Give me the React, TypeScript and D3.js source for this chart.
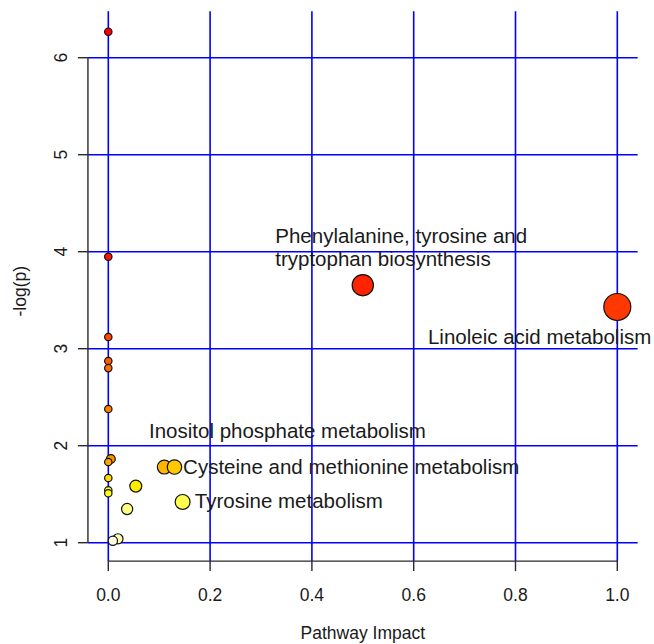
import React from "react";
import * as d3 from "d3";

// Pathway data: impact (x) and -log(p) (y)
const pathwayImpact = [0, 0, 0, 0, 0, 0, 0.005, 0, 0, 0, 0, 0.054, 0.037, 0.019, 0.009, 0.110, 0.130, 0.146, 0.5, 1.0];
const negLogP = [6.268, 3.948, 3.12, 2.873, 2.80, 2.378, 1.863, 1.832, 1.667, 1.54, 1.51, 1.584, 1.347, 1.04, 1.02, 1.78, 1.78, 1.42, 3.655, 3.43];

const xTicks = [0, 0.2, 0.4, 0.6, 0.8, 1.0];
const yTicks = [1, 2, 3, 4, 5, 6];

// Annotation labels (anchor = start of text, baseline, in data coordinates)
const labelLines = [
  ["Phenylalanine, tyrosine and", "tryptophan biosynthesis"],
  ["Linoleic acid metabolism"],
  ["Inositol phosphate metabolism"],
  ["Cysteine and methionine metabolism"],
  ["Tyrosine metabolism"],
];
const labelX = [0.328, 0.628, 0.080, 0.147, 0.170];
const labelY = [4.09, 3.049, 2.079, 1.708, 1.358];

const xTitle = "Pathway Impact";
const yTitle = "-log(p)";

// R's heat.colors(n)
function heatColors(n: number): string[] {
  const j = Math.floor(n / 4);
  const i = n - j;
  const out: string[] = [];
  for (let k = 0; k < i; k++) {
    const h = i > 1 ? (k / (i - 1)) * 60 : 0;
    out.push(d3.hsl(h, 1, 0.5).formatHex());
  }
  for (let k = 0; k < j; k++) {
    const s = j > 1 ? 1 - 1 / (2 * j) - (k * (1 - 1 / j)) / (j - 1) : 0.5;
    const b = Math.round(255 * (1 - s));
    out.push(d3.rgb(255, 255, b).formatHex());
  }
  return out;
}

export default function App() {
  const W = 654, H = 644;
  const x = d3.scaleLinear().domain([0, 1]).range([108.3, 617.3]);
  const y = d3.scaleLinear().domain([1, 6]).range([542.7, 57.7]);
  const r = d3.scaleSqrt().domain([0, 1]).range([3.7, 13.5]);

  const xMin = d3.min(pathwayImpact)!, xMax = d3.max(pathwayImpact)!;
  const yMin = d3.min(negLogP)!, yMax = d3.max(negLogP)!;
  const xPad = (xMax - xMin) * 0.04, yPad = (yMax - yMin) * 0.04;
  const left = x(xMin - xPad), right = x(xMax + xPad);
  const top = y(yMax + yPad), bottom = y(yMin - yPad);

  const n = negLogP.length;
  const order = d3.range(n).sort((a, b) => negLogP[b] - negLogP[a]);
  const cols = heatColors(n);
  const colorOf: string[] = new Array(n);
  order.forEach((idx, rank) => (colorOf[idx] = cols[rank]));

  const font = "'Liberation Sans', Arial, Helvetica, sans-serif";
  const textCol = "#1a1a1a";
  const axisCol = "#2a2a2a";

  return (
    <svg width={W} height={H} style={{ position: "fixed", left: 0, top: 0, background: "#fff" }} fontFamily={font}>
      <rect x={0} y={0} width={W} height={H} fill="#fff" />
      {/* grid */}
      {xTicks.map((t) => (
        <line key={"gx" + t} x1={x(t)} x2={x(t)} y1={top} y2={bottom} stroke="#0000ff" strokeWidth={1.6} />
      ))}
      {yTicks.map((t) => (
        <line key={"gy" + t} x1={left} x2={right} y1={y(t)} y2={y(t)} stroke="#0000ff" strokeWidth={1.6} />
      ))}
      {/* y axis */}
      <line x1={left} x2={left} y1={y(yTicks[0])} y2={y(yTicks[yTicks.length - 1])} stroke={axisCol} strokeWidth={1.4} />
      {yTicks.map((t) => (
        <g key={"yt" + t}>
          <line x1={left - 10} x2={left} y1={y(t)} y2={y(t)} stroke={axisCol} strokeWidth={1.4} />
          <text transform={`translate(${left - 21},${y(t)}) rotate(-90)`} textAnchor="middle" fontSize={17.5} fill={textCol}>
            {String(t)}
          </text>
        </g>
      ))}
      {/* x axis */}
      <line x1={x(xTicks[0])} x2={x(xTicks[xTicks.length - 1])} y1={bottom} y2={bottom} stroke={axisCol} strokeWidth={1.4} />
      {xTicks.map((t) => (
        <g key={"xt" + t}>
          <line x1={x(t)} x2={x(t)} y1={bottom} y2={bottom + 10} stroke={axisCol} strokeWidth={1.4} />
          <text x={x(t)} y={bottom + 40} textAnchor="middle" fontSize={17.5} fill={textCol}>
            {t.toFixed(1)}
          </text>
        </g>
      ))}
      <text x={(left + right) / 2} y={H - 5} textAnchor="middle" fontSize={17.5} fill={textCol}>
        {xTitle}
      </text>
      <text transform={`translate(26,${(top + bottom) / 2 + 5}) rotate(-90)`} textAnchor="middle" fontSize={17.5} fill={textCol}>
        {yTitle}
      </text>
      {/* points */}
      {d3.range(n).map((i) => (
        <circle key={"p" + i} cx={x(pathwayImpact[i])} cy={y(negLogP[i])} r={r(pathwayImpact[i])} fill={colorOf[i]} stroke="#111" strokeWidth={1.2} />
      ))}
      {/* labels */}
      {labelLines.map((lines, i) => (
        <text key={"l" + i} x={x(labelX[i])} y={y(labelY[i])} fontSize={20.5} fill={textCol}>
          {lines.map((ln, k) => (
            <tspan key={k} x={x(labelX[i])} dy={k === 0 ? 0 : 23}>
              {ln}
            </tspan>
          ))}
        </text>
      ))}
    </svg>
  );
}
